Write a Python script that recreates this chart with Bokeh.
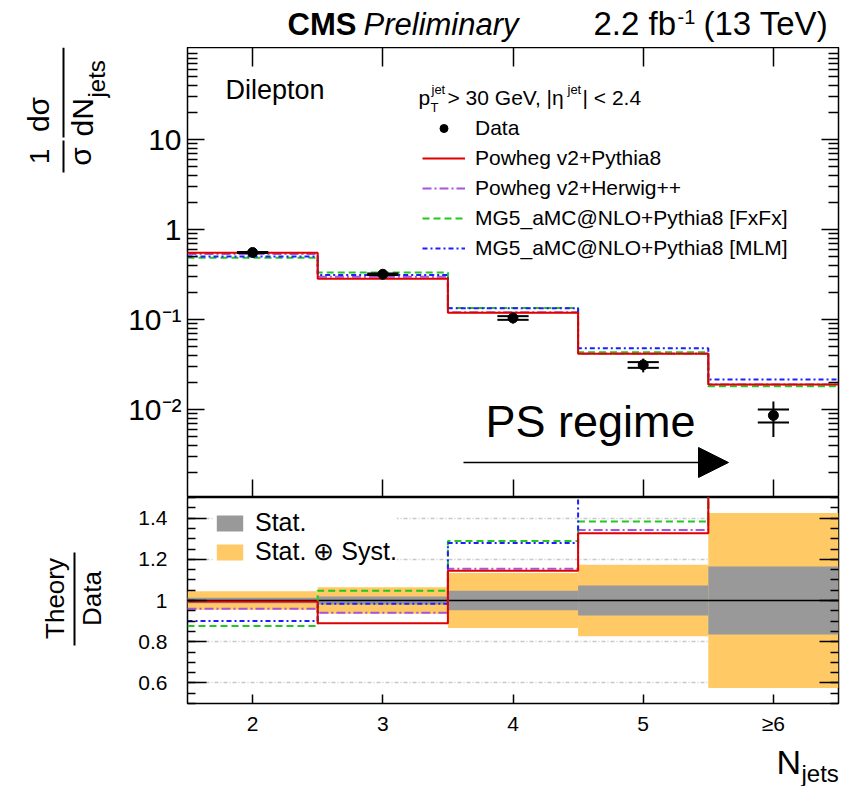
import numpy as np
from bokeh.plotting import figure
from bokeh.layouts import column, row
from bokeh.models import (ColumnDataSource, Range1d, FixedTicker, LinearAxis, LogAxis,
                          Legend, LegendItem, Label, Arrow, NormalHead, CustomJSTickFormatter)
from bokeh.embed import file_html
from bokeh.resources import INLINE

FONT = "Liberation Sans"

# ---- binning in jet multiplicity ----
n_jets = [2, 3, 4, 5, 6]
n_jets_labels = ["2", "3", "4", "5", "≥6"]
bin_edges = [1.5, 2.5, 3.5, 4.5, 5.5, 6.5]

# ---- measured normalised cross section and relative uncertainties ----
data_xsec = [0.555, 0.318, 0.104, 0.0313, 0.0086]
stat_rel = [0.013, 0.020, 0.047, 0.073, 0.165]
total_rel = [0.045, 0.064, 0.133, 0.174, 0.425]

# ---- predictions ----
powheg_pythia8 = [0.552, 0.283, 0.119, 0.0415, 0.0189]
powheg_herwig = [0.533, 0.299, 0.120, 0.0420, 0.0190]
mg5_fxfx = [0.486, 0.333, 0.134, 0.0433, 0.0181]
mg5_mlm = [0.500, 0.313, 0.133, 0.0479, 0.0215]

model_names = ["Powheg v2+Pythia8", "Powheg v2+Herwig++",
               "MG5_aMC@NLO+Pythia8 [FxFx]", "MG5_aMC@NLO+Pythia8 [MLM]"]
model_values = [powheg_pythia8, powheg_herwig, mg5_fxfx, mg5_mlm]

# ---- axis ticks ----
xsec_ticks = [0.01, 0.1, 1, 10]
xsec_tick_labels = ["10⁻²", "10⁻¹", "1", "10"]
ratio_ticks = [0.6, 0.8, 1.0, 1.2, 1.4]
ratio_tick_labels = ["0.6", "0.8", "1", "1.2", "1.4"]

# line styles of the predictions (colour, dash)
model_styles = [("#E00000", "solid"), ("#A855DD", "9 3 2 3"),
                ("#20C820", "7 4"), ("#1E1EFF", "5 3 2 3")]
draw_order = [1, 2, 3, 0]

W = 843
TITLE_W = 120          # column holding the rotated y titles
PLOT_W = W - TITLE_W
LEFT, RIGHT = 67, 5    # borders of the plotting frames
RATIO_BOTTOM = 37      # room for the n-jet tick labels
HALF_PI = np.pi / 2
MID = 0.35             # baseline offset of a middle-anchored label, in em


def label_formatter(vals, labs, log=False):
    return CustomJSTickFormatter(args=dict(vals=vals, labs=labs, islog=log), code="""
        for (let i = 0; i < vals.length; i++) {
            const a = islog ? Math.log10(tick) : tick;
            const b = islog ? Math.log10(vals[i]) : vals[i];
            if (Math.abs(a - b) < 1e-6) return labs[i];
        }
        return "";
    """)


def style_axis(ax, ticker, tick_in, minor_in, fmt=None, size=0, standoff=0):
    ax.ticker = ticker
    if fmt is not None:
        ax.formatter = fmt
    ax.major_tick_in = tick_in
    ax.major_tick_out = 0
    ax.minor_tick_in = minor_in
    ax.minor_tick_out = 0
    ax.major_tick_line_width = 1.5
    ax.minor_tick_line_width = 1.5
    ax.major_tick_line_color = "black"
    ax.minor_tick_line_color = "black"
    ax.axis_line_color = None
    ax.major_label_text_font = FONT
    ax.major_label_text_color = "black"
    ax.major_label_text_font_size = f"{size}px"
    if size == 0:
        ax.major_label_text_alpha = 0
    ax.major_label_standoff = standoff


def _label(fig, text, x, y, size, style, align, baseline, angle, units):
    fig.add_layout(Label(x=x, y=y, x_units=units, y_units=units, text=text,
                         text_font=FONT, text_font_size=f"{size}px",
                         text_font_style=style, text_align=align,
                         text_baseline=baseline, angle=angle, text_color="black"))


def add_text(fig, text, x, y, size, style="normal", align="left", units="data"):
    """Horizontal text whose baseline sits at y."""
    if units == "screen":      # y grows upwards from the frame bottom
        y_mid = y + MID * size
    else:                      # text panels: y grows downwards
        y_mid = y - MID * size
    _label(fig, text, x, y_mid, size, style, align, "middle", 0.0, units)


def add_vtext(fig, text, x, y, size, align="center"):
    """Text rotated to read bottom-to-top, x is its vertical middle."""
    _label(fig, text, x, y, size, "normal", align, "middle", HALF_PI, "data")


def add_bar(fig, x0, y0, x1, y1, width=2):
    fig.add_layout(Arrow(end=None, x_start=x0, y_start=y0, x_end=x1, y_end=y1,
                         line_color="black", line_width=width))


def text_panel(w, h, bottom=0):
    """Blank canvas whose data coordinates are pixels from its frame's top-left."""
    f = figure(width=w, height=h, x_range=Range1d(0, w), y_range=Range1d(h - bottom, 0),
               output_backend="svg", toolbar_location=None,
               x_axis_location=None, y_axis_location=None,
               min_border=0, min_border_left=0, min_border_right=0,
               min_border_top=0, min_border_bottom=bottom)
    f.grid.visible = False
    f.outline_line_color = None
    f.background_fill_color = "white"
    f.border_fill_color = "white"
    return f


def base_figure(height, y_range, bottom, log=False):
    p = figure(width=PLOT_W, height=height,
               x_range=Range1d(bin_edges[0], bin_edges[-1]),
               y_range=y_range, y_axis_type="log" if log else "linear",
               output_backend="svg", toolbar_location=None,
               min_border_left=LEFT, min_border_right=RIGHT,
               min_border_top=0, min_border_bottom=bottom)
    p.outline_line_color = "black"
    p.outline_line_width = 1.5
    p.background_fill_color = "white"
    p.border_fill_color = "white"
    return p


# ================= header =================
header = text_panel(W, 47)
add_text(header, "CMS", 287, 35, 31, style="bold")
add_text(header, "Preliminary", 363, 35, 31, style="italic")
add_text(header, "2.2 fb", 593, 35, 33)
add_text(header, "-1", 677, 23, 20)
add_text(header, "(13 TeV)", 703, 35, 33)

# ================= upper panel: normalised cross section =================
p1 = base_figure(450, Range1d(10 ** -2.978, 10 ** 2.022), bottom=0, log=True)
p1.grid.visible = False

xsec_minor = [k * 10.0 ** e for e in range(-3, 2) for k in range(2, 10)]
log_ticker = FixedTicker(ticks=xsec_ticks, minor_ticks=xsec_minor)
jet_ticker = FixedTicker(ticks=n_jets, minor_ticks=[])

style_axis(p1.yaxis[0], log_ticker, 17, 10,
           label_formatter(xsec_ticks, xsec_tick_labels, log=True), 30, 6)
style_axis(p1.xaxis[0], jet_ticker, 18, 0)
right1 = LogAxis()
style_axis(right1, log_ticker, 17, 10)
p1.add_layout(right1, "right")
top1 = LinearAxis()
style_axis(top1, jet_ticker, 19, 0)
p1.add_layout(top1, "above")

step_renderers = {}
for i in draw_order:
    vals = model_values[i]
    color, dash = model_styles[i]
    step_renderers[i] = p1.step(x=bin_edges, y=vals + [vals[-1]], mode="after",
                                line_color=color, line_width=2, line_dash=dash)

x = np.array(n_jets, dtype=float)
d = np.array(data_xsec)
st = np.array(stat_rel)
tot = np.array(total_rel)
half_w = 0.12
err_src = ColumnDataSource(dict(
    x=x, y=d, lo_tot=d * (1 - tot), hi_tot=d * (1 + tot),
    lo_st=d * (1 - st), hi_st=d * (1 + st), xl=x - half_w, xr=x + half_w))
p1.segment(x0="x", y0="lo_tot", x1="x", y1="hi_tot", source=err_src,
           line_color="black", line_width=2)
p1.segment(x0="xl", y0="lo_st", x1="xr", y1="lo_st", source=err_src,
           line_color="black", line_width=2)
p1.segment(x0="xl", y0="hi_st", x1="xr", y1="hi_st", source=err_src,
           line_color="black", line_width=2)
r_data = p1.scatter(x="x", y="y", source=err_src, size=10, color="black")

legend1 = Legend(
    items=[LegendItem(label="Data", renderers=[r_data])] +
          [LegendItem(label=model_names[i], renderers=[step_renderers[i]]) for i in range(4)],
    location=(235, 237), padding=0, margin=0, spacing=6,
    glyph_width=43, glyph_height=20, label_height=20, label_standoff=10,
    label_text_font=FONT, label_text_font_size="21px", label_text_color="black",
    border_line_color=None, background_fill_alpha=0)
p1.add_layout(legend1)

# selection header above the legend entries (screen offsets from the frame corner)
add_text(p1, "p", 231, 393, 21, units="screen")
add_text(p1, "T", 243, 385, 13, units="screen")
add_text(p1, "jet", 244, 403, 13, units="screen")
add_text(p1, "> 30 GeV, |η", 260, 393, 21, units="screen")
add_text(p1, "jet", 380, 403, 13, units="screen")
add_text(p1, "| < 2.4", 395, 393, 21, units="screen")

add_text(p1, "Dilepton", 38, 398, 27, units="screen")
add_text(p1, "PS regime", 298, 60, 45, units="screen")
p1.add_layout(Arrow(end=NormalHead(size=30, fill_color="black", line_color="black"),
                    x_start=276, y_start=35, x_end=541, y_end=35,
                    start_units="screen", end_units="screen",
                    line_color="black", line_width=1.5))

# y title: 1/sigma dsigma/dN_jets
ytitle1 = text_panel(TITLE_W, 450)
add_vtext(ytitle1, "1", 39, 109, 28)
add_vtext(ytitle1, "σ", 80, 109, 30)
add_bar(ytitle1, 63, 93, 63, 125)
add_vtext(ytitle1, "dσ", 38, 67, 30)
add_vtext(ytitle1, "dN", 82, 89, 30, align="left")
add_vtext(ytitle1, "jets", 96, 50, 24, align="left")
add_bar(ytitle1, 63, 0, 63, 90)

# ================= lower panel: theory / data =================
p2 = base_figure(243, Range1d(0.5, 1.5), bottom=RATIO_BOTTOM)
p2.x_range = p1.x_range
p2.xgrid.visible = False
p2.ygrid.ticker = FixedTicker(ticks=[t for t in ratio_ticks if t != 1.0])
p2.ygrid.grid_line_color = "#c8c8c8"
p2.ygrid.grid_line_width = 1.5
p2.ygrid.grid_line_dash = "4 2 1 2"

ratio_minor = [round(0.5 + 0.05 * k, 2) for k in range(21)]
ratio_ticker = FixedTicker(ticks=ratio_ticks, minor_ticks=ratio_minor)
style_axis(p2.yaxis[0], ratio_ticker, 19, 8,
           label_formatter(ratio_ticks, ratio_tick_labels), 21, 20)
style_axis(p2.xaxis[0], jet_ticker, 9, 0,
           label_formatter(n_jets, n_jets_labels), 21, 8)
right2 = LinearAxis()
style_axis(right2, ratio_ticker, 19, 8)
p2.add_layout(right2, "right")

band_src = ColumnDataSource(dict(
    left=bin_edges[:-1], right=bin_edges[1:],
    tot_lo=1 - tot, tot_hi=1 + tot, st_lo=1 - st, st_hi=1 + st))
r_syst = p2.quad(left="left", right="right", bottom="tot_lo", top="tot_hi",
                 source=band_src, fill_color="#FFC966", line_color=None)
r_stat = p2.quad(left="left", right="right", bottom="st_lo", top="st_hi",
                 source=band_src, fill_color="#999999", line_color=None)
p2.line(x=[bin_edges[0], bin_edges[-1]], y=[1, 1], line_color="black", line_width=1.5)

for i in draw_order:
    ratio = list(np.array(model_values[i]) / d)
    color, dash = model_styles[i]
    p2.step(x=bin_edges, y=ratio + [ratio[-1]], mode="after",
            line_color=color, line_width=2, line_dash=dash)

legend2 = Legend(
    items=[LegendItem(label="Stat.", renderers=[r_stat]),
           LegendItem(label="Stat. ⊕ Syst.", renderers=[r_syst])],
    location=(26, 137), padding=12, margin=0, spacing=0,
    glyph_width=33, glyph_height=20, label_height=20, label_standoff=9,
    label_text_font=FONT, label_text_font_size="25px", label_text_color="black",
    border_line_color=None, background_fill_color="white", background_fill_alpha=1)
p2.add_layout(legend2)

ytitle2 = text_panel(TITLE_W, 243, bottom=RATIO_BOTTOM)
add_vtext(ytitle2, "Theory", 54, 101, 26)
add_bar(ytitle2, 74, 55, 74, 148)
add_vtext(ytitle2, "Data", 91, 101, 26)

# ================= x title =================
footer = text_panel(W, 46)
add_text(footer, "N", 776, 33, 34)
add_text(footer, "jets", 801, 41, 24)

layout = column(header, row(ytitle1, p1), row(ytitle2, p2), footer)
open("out.html", "w").write(file_html(layout, INLINE))
